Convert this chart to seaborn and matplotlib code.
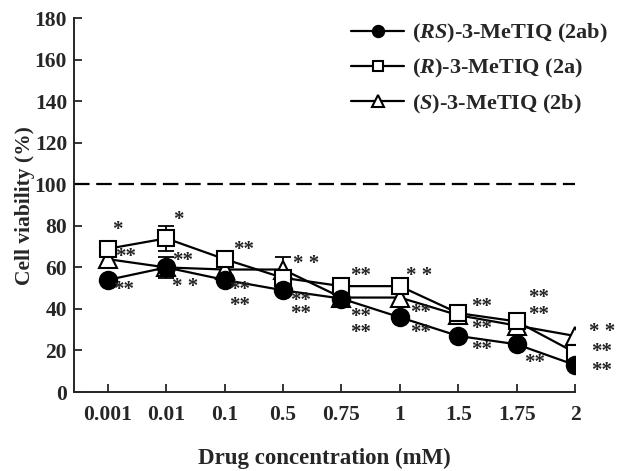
import pandas as pd
import matplotlib
matplotlib.use("Agg")
import matplotlib.pyplot as plt
import seaborn as sns

# Concentrations (mM) and cell viability (%)
conc = ["0.001", "0.01", "0.1", "0.5", "0.75", "1", "1.5", "1.75", "2"]
rs_vals = [54, 60, 54, 49, 45, 36, 27, 23, 13]
r_vals = [69, 74, 64, 55, 51, 51, 38, 34, 19]
s_vals = [64, 60, 59, 59, 45.5, 45.5, 37, 32, 27]

# error bars that are visible in the figure
err_series = ["R", "RS", "S"]
err_idx = [1, 1, 3]
err_vals = [74, 60, 59]
err_size = [6, 5, 6]

# significance marks (category index, viability at the centre, text);
# stacked marks are kept as one multi-line text
star_idx = [0.17, 0.30, 0.27, 1.20, 1.28, 1.32, 2.32, 2.25,
            3.40, 3.30, 4.33, 4.33, 5.33, 5.35,
            6.40, 7.38, 7.30, 8.46]
star_val = [78, 65, 49, 83, 63, 50.5, 68.5, 45.25,
            61.5, 40.75, 56, 32.25, 56, 33.25,
            30.5, 41.25, 14, 19.5]
star_txt = ["*", "**", "**", "*", "**", "* *", "**", "**\n**",
            "* *", "**\n**", "**", "**\n**", "* *", "**\n**",
            "**\n**\n**", "**\n**", "**", "* *\n**\n**"]
star_ls = [1.2, 1.2, 1.2, 1.2, 1.2, 1.2, 1.2, 0.78,
           1.2, 0.58, 1.2, 0.78, 1.2, 0.97,
           1.12, 0.78, 1.2, 0.95]

labels = {
    "RS": r"($\mathbfit{RS}$)-3-MeTIQ (2ab)",
    "R": r"($\mathbfit{R}$)-3-MeTIQ (2a)",
    "S": r"($\mathbfit{S}$)-3-MeTIQ (2b)",
}
markers = {"RS": "o", "R": "s", "S": "^"}
msizes = {"RS": 12.5, "R": 11.5, "S": 13}
faces = {"RS": "black", "R": "white", "S": "white"}
values = {"RS": rs_vals, "R": r_vals, "S": s_vals}

sns.set_style("ticks")
plt.rcParams["font.family"] = ["Liberation Serif", "DejaVu Serif"]
plt.rcParams["font.weight"] = "bold"
plt.rcParams["mathtext.fontset"] = "custom"
plt.rcParams["mathtext.rm"] = "Liberation Serif:bold"
plt.rcParams["mathtext.it"] = "Liberation Serif:italic:bold"
plt.rcParams["mathtext.bf"] = "Liberation Serif:bold"
plt.rcParams["mathtext.bfit"] = "Liberation Serif:bold:italic"

fig = plt.figure(figsize=(6.36, 4.71), dpi=100)
ax = fig.add_axes([0.1164, 0.1677, 0.7877, 0.7934])

ax.axhline(100, color="black", lw=1.6, ls=(0, (7, 3)), zorder=1)

handles = {}
for key in ["S", "R", "RS"]:
    df = pd.DataFrame({"conc": conc, "viab": values[key]})
    sns.lineplot(data=df, x="conc", y="viab", ax=ax, color="black", lw=1.6,
                 marker=markers[key], markersize=msizes[key],
                 markerfacecolor=faces[key], markeredgecolor="black",
                 markeredgewidth=1.5, sort=False, zorder=3)
    handles[key] = ax.lines[-1]

for s, i, v, e in zip(err_series, err_idx, err_vals, err_size):
    ax.errorbar(i, v, yerr=e, fmt="none", ecolor="black", elinewidth=1.3,
                capsize=6, capthick=1.3, zorder=2)

for i, v, t, ls in zip(star_idx, star_val, star_txt, star_ls):
    ax.text(i, v, t, ha="center", va="center", fontsize=15, linespacing=ls,
            fontweight="bold", color="#222222", multialignment="center")

ax.set_xlim(-0.58, 8.0)
ax.set_ylim(0, 180)
ax.set_yticks(range(0, 181, 20))
ax.set_xticks(range(len(conc)))
ax.set_xticklabels(conc)
ax.tick_params(direction="in", length=6, width=1.3, labelsize=15.5)
ax.tick_params(axis="x", pad=9)
ax.tick_params(axis="y", pad=5)
for lab in ax.get_xticklabels() + ax.get_yticklabels():
    lab.set_fontweight("bold")
sns.despine(ax=ax)
ax.spines["left"].set_linewidth(1.4)
ax.spines["bottom"].set_linewidth(1.4)

ax.set_ylabel("Cell viability (%)", fontsize=15.5, fontweight="bold", labelpad=0)
ax.set_xlabel("Drug concentration (mM)", fontsize=16.5, fontweight="bold", labelpad=17)

order = ["RS", "R", "S"]
fig.legend([handles[k] for k in order], [labels[k] for k in order],
           loc="upper left", bbox_to_anchor=(351 / 636, 1 - 22 / 471),
           frameon=False, fontsize=16, handlelength=2.4, handletextpad=0.35,
           labelspacing=0.55, markerscale=0.65, borderpad=0, borderaxespad=0)

fig.savefig("out.png", dpi=100)
